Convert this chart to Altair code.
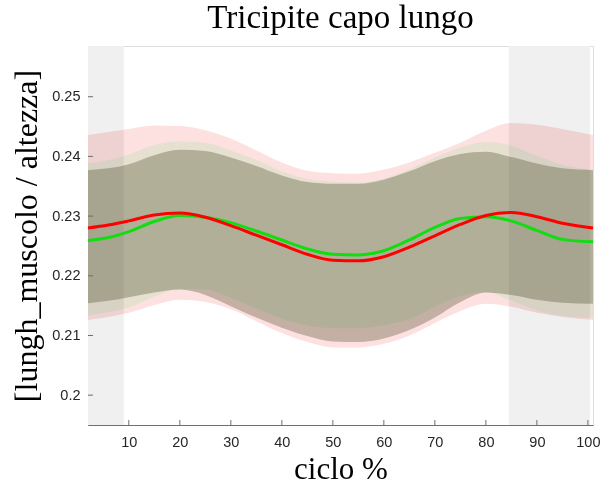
import altair as alt
import pandas as pd

# cycle positions (%)
cycle = [2, 6, 10, 15, 20, 25, 30, 35, 40, 45, 50, 55, 60, 65, 70, 75, 80, 85, 90, 95, 101]

# red side: mean and band
red_mean = [0.2280, 0.2285, 0.2292, 0.2302, 0.2305, 0.2298, 0.2284, 0.2268, 0.2252, 0.2236, 0.2226,
            0.2225, 0.2232, 0.2248, 0.2267, 0.2286, 0.2301, 0.2306, 0.2299, 0.2288, 0.2280]
red_upper = [0.2436, 0.2441, 0.2446, 0.2452, 0.2451, 0.2444, 0.2430, 0.2410, 0.2390, 0.2376, 0.2372,
             0.2371, 0.2378, 0.2390, 0.2406, 0.2423, 0.2443, 0.2456, 0.2453, 0.2446, 0.2436]
red_lower = [0.2126, 0.2131, 0.2138, 0.2151, 0.2160, 0.2156, 0.2144, 0.2124, 0.2104, 0.2089, 0.2080,
             0.2080, 0.2086, 0.2100, 0.2121, 0.2141, 0.2153, 0.2148, 0.2138, 0.2131, 0.2126]

# green side: mean and band
green_mean = [0.2259, 0.2264, 0.2274, 0.2291, 0.2301, 0.2298, 0.2289, 0.2275, 0.2260, 0.2245, 0.2236,
              0.2235, 0.2242, 0.2260, 0.2281, 0.2296, 0.2299, 0.2292, 0.2276, 0.2261, 0.2257]
green_upper = [0.2388, 0.2394, 0.2403, 0.2419, 0.2425, 0.2423, 0.2410, 0.2394, 0.2375, 0.2362, 0.2358,
               0.2356, 0.2363, 0.2378, 0.2398, 0.2415, 0.2424, 0.2418, 0.2401, 0.2386, 0.2378]
green_lower = [0.2134, 0.2139, 0.2147, 0.2165, 0.2178, 0.2177, 0.2163, 0.2145, 0.2128, 0.2117, 0.2112,
               0.2112, 0.2117, 0.2127, 0.2148, 0.2166, 0.2173, 0.2158, 0.2142, 0.2133, 0.2129]

# reference (grey) band
ref_upper = [0.2377, 0.2380, 0.2387, 0.2402, 0.2411, 0.2409, 0.2398, 0.2384, 0.2368, 0.2357, 0.2354,
             0.2354, 0.2361, 0.2375, 0.2392, 0.2404, 0.2408, 0.2399, 0.2388, 0.2380, 0.2377]
ref_lower = [0.2154, 0.2158, 0.2164, 0.2172, 0.2177, 0.2168, 0.2149, 0.2130, 0.2113, 0.2099, 0.2090,
             0.2089, 0.2095, 0.2109, 0.2130, 0.2156, 0.2172, 0.2168, 0.2160, 0.2155, 0.2153]

# shaded phases
shade_start = [2, 84.5]
shade_end = [9.0, 100.4]

x_ticks = [10, 20, 30, 40, 50, 60, 70, 80, 90, 100]
y_ticks = [0.20, 0.21, 0.22, 0.23, 0.24, 0.25]

W, H = 505, 379
XDOM = [2, 101]
YDOM = [0.195, 0.2585]

df = pd.DataFrame({
    "x": cycle,
    "rm": red_mean, "ru": red_upper, "rl": red_lower,
    "gm": green_mean, "gu": green_upper, "gl": green_lower,
    "cu": ref_upper, "cl": ref_lower,
})
shade_df = pd.DataFrame({"s": shade_start, "e": shade_end})
xt_df = pd.DataFrame({"v": x_ticks})
yt_df = pd.DataFrame({"v": y_ticks})

label_font = "Liberation Sans"
serif = "Liberation Serif"

xs = alt.Scale(domain=XDOM, nice=False, zero=False)
ys = alt.Scale(domain=YDOM, nice=False, zero=False)

x_axis = alt.Axis(values=x_ticks, ticks=False, tickSize=0, grid=False, labelPadding=10,
                  labelFont=label_font, labelFontSize=14.5, labelColor="#262626",
                  domainColor="#6e6e6e", domainWidth=1,
                  title="ciclo %", titleFont=serif, titleFontSize=31, titleFontWeight="normal",
                  titleColor="#000000", titleX=W / 2, titleY=53, titleBaseline="alphabetic",
                  titleAnchor="middle")
y_axis = alt.Axis(values=y_ticks, ticks=False, tickSize=0, grid=False, labelPadding=8,
                  format=".2~f",
                  labelFont=label_font, labelFontSize=14.5, labelColor="#262626",
                  domainColor="#6e6e6e", domainWidth=1,
                  title="[lungh_muscolo / altezza]", titleFont=serif, titleFontSize=32,
                  titleFontWeight="normal", titleColor="#000000", titleX=-62, titleY=H / 2,
                  titleBaseline="middle", titleAnchor="middle")

shade = alt.Chart(shade_df).mark_rect(color="#f0f0f0").encode(
    x=alt.X("s:Q", scale=xs, axis=x_axis),
    x2="e:Q",
    y=alt.value(0), y2=alt.value(H),
)

base = alt.Chart(df)
band_red = base.mark_area(color="#fde0e0", blend="multiply", interpolate="monotone").encode(
    x=alt.X("x:Q", scale=xs), y=alt.Y("rl:Q", scale=ys, axis=y_axis), y2="ru:Q")
band_green = base.mark_area(color="#e7ffed", blend="multiply", interpolate="monotone").encode(
    x=alt.X("x:Q", scale=xs), y=alt.Y("gl:Q", scale=ys), y2="gu:Q")
band_ref = base.mark_area(color="#c6c7bb", blend="multiply", interpolate="monotone").encode(
    x=alt.X("x:Q", scale=xs), y=alt.Y("cl:Q", scale=ys), y2="cu:Q")

line_green = base.mark_line(color="#11dd11", strokeWidth=3, interpolate="monotone").encode(
    x=alt.X("x:Q", scale=xs), y=alt.Y("gm:Q", scale=ys))
line_red = base.mark_line(color="#ff0000", strokeWidth=3, interpolate="monotone").encode(
    x=alt.X("x:Q", scale=xs), y=alt.Y("rm:Q", scale=ys))

xtick_marks = alt.Chart(xt_df).mark_rule(color="#6e6e6e", strokeWidth=1).encode(
    x=alt.X("v:Q", scale=xs), y=alt.value(H - 5), y2=alt.value(H))
ytick_marks = alt.Chart(yt_df).mark_rule(color="#6e6e6e", strokeWidth=1).encode(
    y=alt.Y("v:Q", scale=ys), x=alt.value(0), x2=alt.value(5))

chart = alt.layer(
    shade, band_red, band_green, band_ref, line_green, line_red, xtick_marks, ytick_marks
).properties(
    width=W, height=H,
    title=alt.TitleParams("Tricipite capo lungo", font=serif, fontSize=33, fontWeight="normal",
                          color="#000000", anchor="middle", baseline="alphabetic", offset=14,
                          dy=29),
    autosize=alt.AutoSizeParams(type="none"),
    padding={"left": 88, "top": 46, "right": 7, "bottom": 62},
).configure_view(stroke=None).configure(background="white")

chart.save("out.html", embed_options={"renderer": "svg", "actions": False})
